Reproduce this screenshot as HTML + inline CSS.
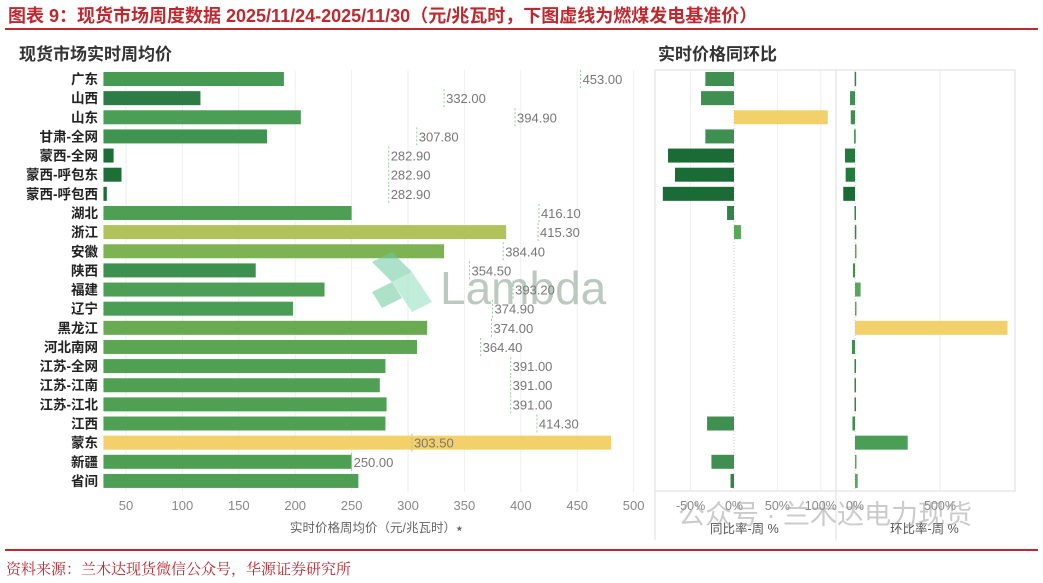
<!DOCTYPE html>
<html><head><meta charset="utf-8">
<style>
body{margin:0;background:#fff;}
svg{display:block;font-family:"Liberation Sans","Noto Sans CJK SC",sans-serif;}
</style></head>
<body>
<svg id="c" width="1043" height="583" viewBox="0 0 1043 583">
<text x="8" y="22" font-size="18" font-weight="bold" fill="#c0282f">图表 9：现货市场周度数据 2025/11/24-2025/11/30（元/兆瓦时，下图虚线为燃煤发电基准价）</text>
<rect x="5" y="28" width="1033" height="2" fill="#c0282f"/>
<text x="19" y="60" font-size="17" font-weight="bold" fill="#333">现货市场实时周均价</text>
<text x="658" y="60" font-size="17" font-weight="bold" fill="#333">实时价格同环比</text>
<g id="left"></g>
<g id="right"></g>
<text x="290" y="532" font-size="12.5" fill="#666">实时价格周均价（元/兆瓦时）⭑</text>
<text x="710" y="533" font-size="12.5" fill="#555">同比率-周 %</text>
<text x="890" y="533" font-size="12.5" fill="#555">环比率-周 %</text>
<g opacity="0.55">
<polygon points="372,262 392,252 412,272 392,282" fill="#6cc9a0"/>
<polygon points="392,282 412,272 432,302 412,312" fill="#8fe0bd"/>
<polygon points="372,292 392,282 402,298 382,308" fill="#6cc9a0"/>
</g>
<text x="440" y="304" font-size="46" fill="#6a8a78" opacity="0.45">Lambda</text>
<text x="678" y="524" font-size="27" fill="#999" opacity="0.5">公众号 · 兰木达电力现货</text>
<rect x="5" y="549" width="1033" height="2" fill="#c0282f"/>
<text x="6" y="574" font-size="15" fill="#c0282f" font-family="'Liberation Serif','Noto Serif CJK SC',serif">资料来源：兰木达现货微信公众号，华源证券研究所</text>
</svg>
<script>
const categories=["广东","山西","山东","甘肃-全网","蒙西-全网","蒙西-呼包东","蒙西-呼包西","湖北","浙江","安徽","陕西","福建","辽宁","黑龙江","河北南网","江苏-全网","江苏-江南","江苏-江北","江西","蒙东","新疆","省间"];
const prices=[190,116,205,175,39,46,33,250,387,332,165,226,198,317,308,280,275,281,280,480,250,256];
const benchmarks=[453.00,332.00,394.90,307.80,282.90,282.90,282.90,416.10,415.30,384.40,354.50,393.20,374.90,374.00,364.40,391.00,391.00,391.00,414.30,303.50,250.00,null];
const yoy=[-33,-38,108,-33,-76,-68,-82,-8,8,0,0,0,0,0,0,0,0,0,-31,0,-26,-4];
const wow=[-2,-29,-25,-5,-59,-55,-69,-3,-1,1,-12,33,8,897,-18,-3,-3,-3,-15,310,3,16];
const priceTicks=[50,100,150,200,250,300,350,400,450,500];
const yoyTicks=["-50%","0%","50%","100%"], yoyTickVals=[-50,0,50,100];
const wowTicks=["0%","500%"], wowTickVals=[0,500];

const NS="http://www.w3.org/2000/svg";
function mk(t,a,p){const e=document.createElementNS(NS,t);for(const k in a)e.setAttribute(k,a[k]);p.appendChild(e);return e;}
const L=document.getElementById('left'),R=document.getElementById('right');
const rowY=i=>79+i*19.14;
const xP=v=>69.6+1.128*v;
const xMin=30;
function lerp(a,b,t){return a.map((v,i)=>Math.round(v+(b[i]-v)*t));}
function priceColor(v){
 const stops=[[30,[26,107,53]],[120,[46,125,70]],[200,[74,158,85]],[300,[80,160,82]],[340,[138,184,84]],[390,[181,195,90]],[480,[243,208,106]]];
 for(let i=1;i<stops.length;i++){if(v<=stops[i][0]){const t=(v-stops[i-1][0])/(stops[i][0]-stops[i-1][0]);return 'rgb('+lerp(stops[i-1][1],stops[i][1],Math.max(0,t)).join(',')+')';}}
 return 'rgb(243,208,106)';
}
function chgColor(v,max){
 if(v>=max*0.9&&v>50)return '#f2d16b';
 if(v<-60)return '#1a6b35';
 if(v<-40)return '#237a3c';
 if(v<-10)return '#3f8f50';
 if(v>100)return '#4a9e55';
 return v<0?'#2e8545':'#57a85a';
}
priceTicks.forEach((t,i)=>{
 const g=mk('line',{x1:xP(t),x2:xP(t),y1:70,y2:492,stroke:'#eeeeee','stroke-width':1},L);
 
 
 const tx=mk('text',{x:xP(t),y:510,'font-size':13,fill:'#888','text-anchor':'middle'},L);tx.textContent=t;
 
 
});
categories.forEach((c,i)=>{
 const y=rowY(i);
 const lb=mk('text',{x:98,y:y+5,'font-size':13.5,'font-weight':'bold',fill:'#222','text-anchor':'end'},L);lb.textContent=c;
 
 
 const x0=xP(xMin);
 const b=mk('rect',{x:x0,y:y-7,width:Math.max(1,xP(prices[i])-x0),height:14,fill:priceColor(prices[i])},L);
 
 
 if(benchmarks[i]!=null){
  const bx=xP(benchmarks[i]);
  const d=mk('line',{x1:bx,x2:bx,y1:y-9,y2:y+9,stroke:'#9c9','stroke-width':1,'stroke-dasharray':'2,2'},L);
  
  
  const t=mk('text',{x:bx+2,y:y+5,'font-size':13,fill:'#777'},L);t.textContent=benchmarks[i].toFixed(2);
  
  
 }
});
const fr=mk('rect',{x:655,y:70,width:360,height:421,fill:'none',stroke:'#ddd'},R);


[[655,540],[836,540]].forEach(p=>{const l=mk('line',{x1:p[0],x2:p[0],y1:70,y2:p[1],stroke:'#ddd'},R);
 
 });
const xY=v=>734+0.868*v, xW=v=>855+0.17*v;
yoyTickVals.forEach((t,i)=>{
 const g=mk('line',{x1:xY(t),x2:xY(t),y1:71,y2:490,stroke:t===0?'#ccc':'#eee','stroke-dasharray':t===0?'1,2':''},R);
 
 
 const tx=mk('text',{x:xY(t),y:510,'font-size':12.5,fill:'#888','text-anchor':'middle'},R);tx.textContent=yoyTicks[i];
 
 
});
wowTickVals.forEach((t,i)=>{
 const g=mk('line',{x1:xW(t),x2:xW(t),y1:71,y2:490,stroke:t===0?'#ccc':'#eee','stroke-dasharray':t===0?'1,2':''},R);
 
 
 const tx=mk('text',{x:xW(t),y:510,'font-size':12.5,fill:'#888','text-anchor':'middle'},R);tx.textContent=wowTicks[i];
 
 
});
const ymax=Math.max(...yoy),wmax=Math.max(...wow);
categories.forEach((c,i)=>{
 const y=rowY(i);
 if(yoy[i]!==0){
  const a=xY(0),b=xY(yoy[i]);
  const r=mk('rect',{x:Math.min(a,b),y:y-7,width:Math.max(1.5,Math.abs(b-a)),height:14,fill:chgColor(yoy[i],ymax)},R);
  
  
 }
 const a=xW(0),b=xW(wow[i]);
 const r=mk('rect',{x:Math.min(a,b),y:y-7,width:Math.max(1.5,Math.abs(b-a)),height:14,fill:chgColor(wow[i],wmax)},R);
 
 
});
</script>
</body></html>
